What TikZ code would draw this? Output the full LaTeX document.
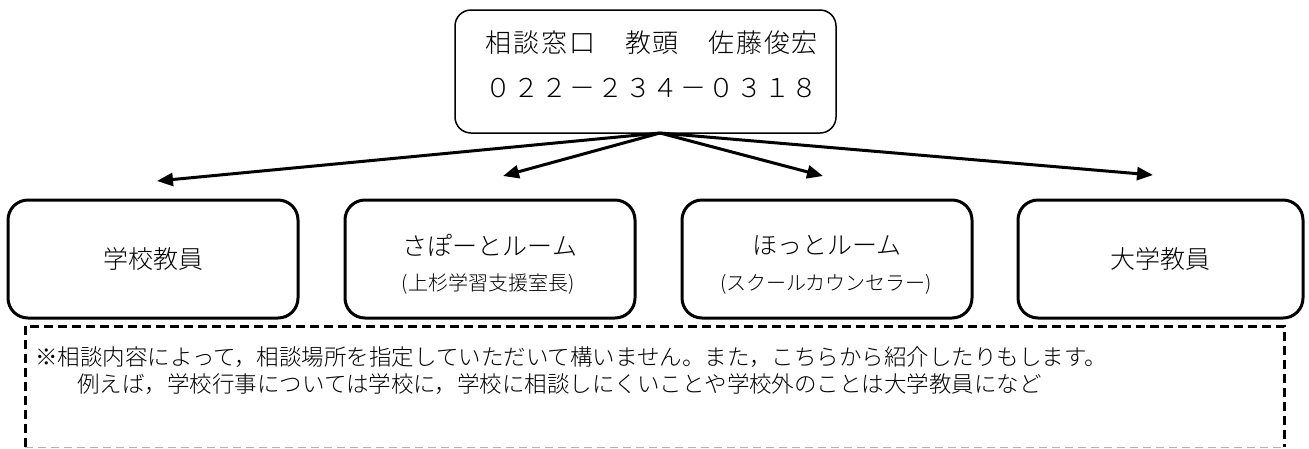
\documentclass[tikz,border=0pt]{standalone}
\usepackage{fontspec}
\setmainfont{Noto Sans CJK JP Light}
\newfontfamily\cjkwide[LetterSpace=7]{Noto Sans CJK JP Light}
\usetikzlibrary{arrows.meta}
\begin{document}
\begin{tikzpicture}[x=1pt,y=-1pt,
  topbox/.style={draw, line width=1.5pt, rounded corners=16pt, minimum width=381pt, minimum height=123pt, inner sep=0pt},
  rowbox/.style={draw, line width=3pt, rounded corners=20pt, minimum width=290pt, minimum height=118pt, inner sep=0pt},
  toptext/.style={inner sep=0pt, font=\cjkwide\fontsize{26}{30}\selectfont},
  titletext/.style={inner sep=0pt, font=\fontsize{25}{30}\selectfont},
  subtext/.style={inner sep=0pt, font=\fontsize{20}{24}\selectfont},
  notetext/.style={inner sep=0pt, anchor=west, font=\fontsize{22.5}{26}\selectfont},
  arr/.style={line width=3pt, -{Triangle[length=16pt,width=13pt]}},
  dashbox/.style={line width=3pt, dash pattern=on 9pt off 5pt},
]
\useasboundingbox (0,0) rectangle (1309,448);

% top box
\node[topbox] (top) at (645.5,71.5) {};
\node[toptext] (topl1) at (652,43) {相談窓口　教頭　佐藤俊宏};
\node[toptext] (topl2) at (652,88) {０２２－２３４－０３１８};

% row boxes
\node[rowbox] (b1) at (153,259) {};
\node[rowbox] (b2) at (490,259) {};
\node[rowbox] (b3) at (827,259) {};
\node[rowbox, minimum width=285pt] (b4) at (1160.5,259) {};

\node[titletext] (b1t) at (b1) {学校教員};
\node[titletext] (b2t) at (490,245) {さぽーとルーム};
\node[subtext] (b2s) at (488,284) {(上杉学習支援室長)};
\node[titletext] (b3t) at (827,245) {ほっとルーム};
\node[subtext] (b3s) at (826,284) {(スクールカウンセラー)};
\node[titletext] (b4t) at (b4) {大学教員};

% arrows
\coordinate (src) at (660,133);
\coordinate (tip1) at (157,181);
\coordinate (tip2) at (503,176);
\coordinate (tip3) at (823,176);
\coordinate (tip4) at (1153,175);
\draw[arr] (src) -- (tip1);
\draw[arr] (src) -- (tip2);
\draw[arr] (src) -- (tip3);
\draw[arr] (src) -- (tip4);

% note box
\draw[dashbox] (25,447) -- (25,326) -- (1284,326) -- (1284,447);
\draw[line width=0.8pt, gray!60, dash pattern=on 8pt off 5pt] (25,447) -- (1284,447);
\node[notetext] (n1) at (35,357) {※相談内容によって，相談場所を指定していただいて構いません。また，こちらから紹介したりもします。};
\node[notetext] (n2) at (77,384) {例えば，学校行事については学校に，学校に相談しにくいことや学校外のことは大学教員になど};
\end{tikzpicture}
\end{document}
